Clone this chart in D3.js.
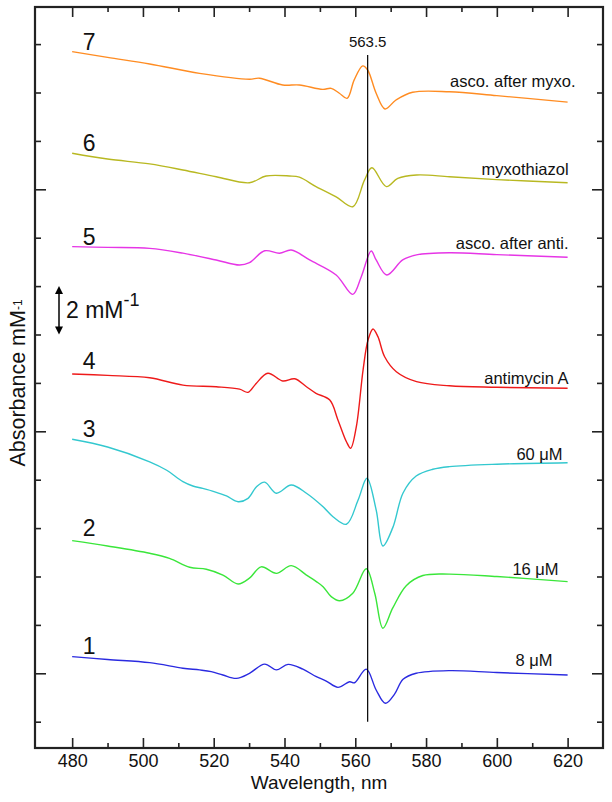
<!DOCTYPE html>
<html><head><meta charset="utf-8">
<script src="https://cdn.jsdelivr.net/npm/d3@7"></script>
<style>
body{margin:0;background:#fff}
svg{display:block}
text{font-family:"Liberation Sans",Arial,Helvetica,sans-serif;fill:#111}
</style>
</head><body>
<svg id="c" width="612" height="802"></svg>
<script>
// ---------- data ----------
const xTicks = [480,490,500,510,520,530,540,550,560,570,580,590,600,610,620];
const xTickLabels = [480,500,520,540,560,580,600,620];
const yTicks = [-2,0,2,4,6,8,10,12,14,16,18,20,22,24,26];
const yMajorTicks = [0,10,20];
const markerWavelength = 563.5;
const markerLabel = "563.5";
const scaleBarValues = [14,16];
const scaleBarLabel = "2 mM";
const curveNumbers = ["1","2","3","4","5","6","7"];
const curveNotes = ["8 \u03bcM","16 \u03bcM","60 \u03bcM","antimycin A","asco. after anti.","myxothiazol","asco. after myxo."];
const curveColors = ["#2a2ae0","#3ae63a","#33c8cf","#ee1a1a","#e635e6","#b8b821","#ff8c22"];

const wl1 = [480,490,501.9,511.3,516,519.3,522.6,526.4,530.1,534.4,537.7,541,545.2,549,551.8,555.1,558.4,559.8,563.1,565.9,568.5,571.1,573.5,577.2,586.6,600,620];
const ab1 = [0.69,0.57,0.44,0.21,0.14,0.07,-0.07,-0.21,0,0.38,0.14,0.37,0.17,-0.14,-0.32,-0.58,-0.35,-0.39,0.17,-0.69,-1.24,-0.86,-0.25,0,0.11,0.03,-0.07];

const wl2 = [480,490,501.9,507.5,513.2,517.9,522.6,526.9,530.1,533.4,537.7,541.9,546.2,549,550.9,553.2,555.6,559.3,563.1,565.5,567.8,570.6,574.4,579.1,586.6,600,620];
const ab2 = [5.48,5.26,4.96,4.75,4.38,4.30,4.06,3.69,3.93,4.40,4.13,4.45,4.06,3.79,3.58,3.17,3.00,3.31,4.32,3.31,1.86,2.70,3.62,4.04,4.10,4.00,3.79];

const wl3 = [480,490,501.9,506.6,511.3,514.1,516.9,520.3,523.6,526.9,529.7,532.1,534.4,537.7,541.9,546.2,550.9,553.7,557.5,560.8,563.3,565.9,567.8,570.6,573.5,577.2,581.9,586.6,600,620];
const ab3 = [9.67,9.35,8.74,8.40,7.92,7.74,7.64,7.50,7.33,7.09,7.23,7.71,7.90,7.44,7.78,7.44,6.88,6.47,6.16,7.16,8.06,6.75,5.26,6.02,7.45,8.15,8.43,8.54,8.64,8.70];

const wl4 = [480,490,501.9,511.3,520.7,527.3,529.7,532,535.3,539.5,542.9,546.2,548.9,552.8,555.1,557.5,558.7,560.3,562.2,563.6,565,566.4,568.3,571.6,577.3,586.6,600,620];
const ab4 = [12.37,12.31,12.21,11.91,11.84,11.74,11.61,11.98,12.40,12.08,12.17,11.84,11.57,11.29,10.47,9.57,9.30,10.19,12.53,13.77,14.23,13.91,13.08,12.46,12.05,11.88,11.82,11.78];

const wl5 = [480,490,501.9,511.3,520.7,527.3,530.1,534.4,538.6,541.9,547.1,554.6,559.3,561.7,564.5,565.9,568.9,573.4,577.3,586.6,600,620];
const ab5 = [17.63,17.60,17.56,17.36,17.08,16.87,16.97,17.46,17.36,17.49,17.08,16.46,15.66,16.39,17.45,17.08,16.46,17.08,17.29,17.38,17.30,17.19];

const wl6 = [480,490,501.9,511.3,520.7,530.1,534.8,541.4,544.2,548.9,554.6,559.3,562.6,564.7,568.8,572,577.3,586.6,600,620];
const ab6 = [21.49,21.25,21.05,20.80,20.52,20.27,20.55,20.55,20.50,20.11,19.69,19.28,20.38,20.89,20.11,20.45,20.59,20.52,20.40,20.27];

const wl7 = [480,490,501.9,516,530.1,532.9,539.5,544.2,550.8,553.2,555.5,557.7,559.7,562.1,563.5,565.9,568.4,571.5,576.2,586.6,600,620];
const ab7 = [25.69,25.45,25.18,24.79,24.55,24.59,24.31,24.31,24.13,24.17,23.97,23.76,24.52,25.10,24.93,23.97,23.32,23.69,24.01,24.03,23.87,23.60];

const wls = [wl1,wl2,wl3,wl4,wl5,wl6,wl7];
const abs = [ab1,ab2,ab3,ab4,ab5,ab6,ab7];

// ---------- layout ----------
const L = 35, R = 603, T = 7, B = 748;
const numDy = [-3,-5,-2,-5,-2,-2,-2];
const noteDx = [-15,-9,-5,1,1,1,8];
const noteDy = [-9,-7,-3,-4,-8,-8,-15];

const svg = d3.select("#c");
const x = d3.scaleLinear().domain([469.5, 630]).range([L, R]);
const y = d3.scaleLinear().domain([-3.087, 27.533]).range([B, T]);

const axisColor = "#222";
function styleAxis(g){
  g.select(".domain").remove();
  g.selectAll(".tick line").attr("stroke", axisColor).attr("stroke-width", 1.6);
  g.selectAll(".tick text").attr("font-family",'"Liberation Sans",Arial,sans-serif').attr("fill","#111");
}
const xMinor = xTicks.filter(d => d % 20 !== 0);
const yMinor = yTicks.filter(d => !yMajorTicks.includes(d));

// bottom
svg.append("g").attr("transform",`translate(0,${B})`)
  .call(d3.axisBottom(x).tickValues(xMinor).tickSize(-5).tickFormat("")).call(styleAxis);
svg.append("g").attr("transform",`translate(0,${B})`)
  .call(d3.axisBottom(x).tickValues(xTickLabels).tickSize(-10).tickPadding(6.5).tickFormat(d3.format("d")))
  .call(styleAxis)
  .call(g => g.selectAll(".tick text").attr("font-size", 18));
// top
svg.append("g").attr("transform",`translate(0,${T})`)
  .call(d3.axisTop(x).tickValues(xMinor).tickSize(-5).tickFormat("")).call(styleAxis);
svg.append("g").attr("transform",`translate(0,${T})`)
  .call(d3.axisTop(x).tickValues(xTickLabels).tickSize(-10).tickFormat("")).call(styleAxis);
// left / right
svg.append("g").attr("transform",`translate(${L},0)`)
  .call(d3.axisLeft(y).tickValues(yMinor).tickSize(-6).tickFormat("")).call(styleAxis);
svg.append("g").attr("transform",`translate(${L},0)`)
  .call(d3.axisLeft(y).tickValues(yMajorTicks).tickSize(-11).tickFormat("")).call(styleAxis);
svg.append("g").attr("transform",`translate(${R},0)`)
  .call(d3.axisRight(y).tickValues(yMinor).tickSize(-6).tickFormat("")).call(styleAxis);
svg.append("g").attr("transform",`translate(${R},0)`)
  .call(d3.axisRight(y).tickValues(yMajorTicks).tickSize(-11).tickFormat("")).call(styleAxis);

// frame
svg.append("rect").attr("x",L).attr("y",T).attr("width",R-L).attr("height",B-T)
  .attr("fill","none").attr("stroke",axisColor).attr("stroke-width",2.2);

// curves
const line = d3.line().curve(d3.curveCatmullRom.alpha(0.5)).x(d => x(d[0])).y(d => y(d[1]));
wls.forEach((w,i) => {
  const pts = w.map((v,j) => [v, abs[i][j]]);
  svg.append("path").attr("d", line(pts)).attr("fill","none")
    .attr("stroke", curveColors[i]).attr("stroke-width",1.4).attr("stroke-linejoin","round");
  svg.append("text").attr("x", x(480) + 10.5).attr("y", y(abs[i][0]) + numDy[i])
    .attr("font-size", 23).text(curveNumbers[i]);
  const last = abs[i][abs[i].length-1];
  svg.append("text").attr("x", x(620) + noteDx[i]).attr("y", y(last) + noteDy[i])
    .attr("text-anchor","end").attr("font-size", 16.5).text(curveNotes[i]);
});

// marker line
svg.append("line").attr("x1", x(markerWavelength)).attr("x2", x(markerWavelength))
  .attr("y1", y(-2)).attr("y2", y(25.55)).attr("stroke","#000").attr("stroke-width",1.2);
svg.append("text").attr("x", x(markerWavelength)).attr("y", y(25.55) - 8)
  .attr("text-anchor","middle").attr("font-size", 15).text(markerLabel);

// scale bar
const sbx = 59;
const y0 = y(scaleBarValues[0]), y1 = y(scaleBarValues[1]);
svg.append("line").attr("x1",sbx).attr("x2",sbx).attr("y1",y1+6).attr("y2",y0-6)
  .attr("stroke","#000").attr("stroke-width",1.5);
svg.append("path").attr("d",`M${sbx},${y1} L${sbx-4},${y1+8} L${sbx+4},${y1+8} Z`).attr("fill","#000");
svg.append("path").attr("d",`M${sbx},${y0} L${sbx-4},${y0-8} L${sbx+4},${y0-8} Z`).attr("fill","#000");
const sbt = svg.append("text").attr("x", 66).attr("y", y0 - 16.5).attr("font-size", 23);
sbt.append("tspan").text(scaleBarLabel);
sbt.append("tspan").attr("font-size", 18).attr("dy", -12).text("-1");

// axis titles
svg.append("text").attr("x", (L+R)/2).attr("y", 789).attr("text-anchor","middle")
  .attr("font-size", 19).text("Wavelength, nm");
const yt = svg.append("text").attr("transform","translate(25,383) rotate(-90)")
  .attr("text-anchor","middle").attr("font-size", 21.5);
yt.append("tspan").text("Absorbance mM");
yt.append("tspan").attr("font-size", 12).attr("dy", -3).text("-1");
</script>
</body></html>
